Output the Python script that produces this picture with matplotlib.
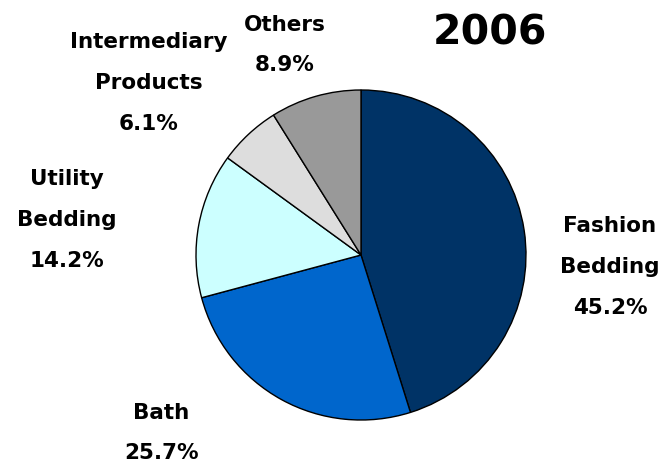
import matplotlib.pyplot as plt

# 2006 sales mix by product line
labels = ['Fashion\nBedding', 'Bath', 'Utility\nBedding', 'Intermediary\nProducts', 'Others']
shares = [45.2, 25.7, 14.2, 6.1, 8.9]
colors = ['#003366', '#0066CC', '#CCFFFF', '#DDDDDD', '#999999']

# label block centres (pixel coords of the 666x465 canvas, y from top)
label_px = [(610, 267), (161, 433), (67, 220), (149, 83), (285, 45)]

plt.rcParams['font.family'] = ['DejaVu Sans']

fig = plt.figure(figsize=(6.66, 4.65), dpi=100)
ax = fig.add_axes([0, 0, 1, 1])

cx, cy, r = 361, 255, 165  # pie centre and radius in pixels
ax.pie(shares, colors=colors, startangle=90, counterclock=False,
       wedgeprops=dict(edgecolor='black', linewidth=1.0))

ax.set_xlim(-cx / r, (666 - cx) / r)
ax.set_ylim(-(465 - cy) / r, cy / r)
ax.set_aspect('equal')
ax.axis('off')

for lab, val, (px, py) in zip(labels, shares, label_px):
    ax.text((px - cx) / r, (cy - py) / r, f'{lab}\n{val}%',
            ha='center', va='center', fontsize=15.5, fontweight='bold',
            linespacing=2.3)

ax.text((490 - cx) / r, (cy - 33) / r, '2006', ha='center', va='center',
        fontsize=29.5, fontweight='bold')

fig.savefig('out.png', dpi=100)
